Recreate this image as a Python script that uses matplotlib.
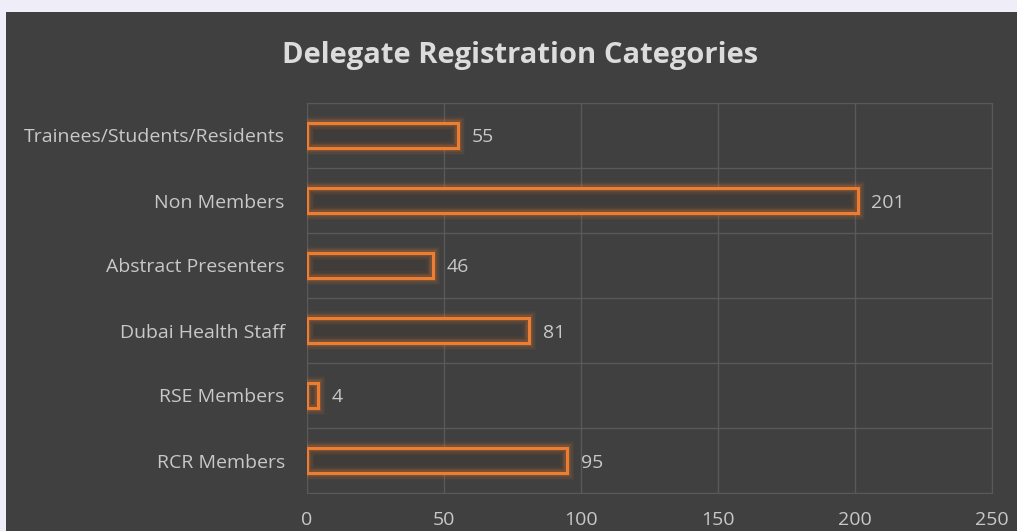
import matplotlib
matplotlib.use("Agg")
import matplotlib.pyplot as plt
from matplotlib.patches import Rectangle

# Dados
categorias = ['RCR Members', 'RSE Members', 'Dubai Health Staff', 'Abstract Presenters',
              'Non Members', 'Trainees/Students/Residents']
valores = [95, 4, 81, 46, 201, 55]
ticks_x = [0, 50, 100, 150, 200, 250]

fundo = '#404040'
laranja = '#ED7D31'
texto = '#C8C8C8'
grade = '#595959'

plt.rcParams['font.family'] = ['Open Sans', 'DejaVu Sans']

fig = plt.figure(figsize=(10.17, 5.31), dpi=100)
fig.patch.set_facecolor('#EFEEF8')
W, H = 1017, 531
# area escura do grafico
fig.patches.append(Rectangle((6 / W, 0), 1 - 6 / W, 1 - 12 / H, transform=fig.transFigure,
                             facecolor=fundo, edgecolor='none', zorder=-1))

ax = fig.add_axes([307 / W, 1 - 493 / H, (992 - 307) / W, (493 - 103) / H])
ax.set_facecolor(fundo)

y = list(range(len(categorias)))
# preenchimento escuro
ax.barh(y, valores, height=0.37, facecolor='#3F3C3A', edgecolor='none', zorder=2)
# brilho em volta das barras
for lw, a in [(10, 0.05), (8, 0.07), (6, 0.10), (4.5, 0.14)]:
    ax.barh(y, valores, height=0.37, facecolor='none', edgecolor=laranja, linewidth=lw,
            alpha=a, zorder=3)
ax.barh(y, valores, height=0.37, facecolor='none', edgecolor=laranja, linewidth=2.2, zorder=4)

for yi, v in zip(y, valores):
    ax.text(v + 5, yi, str(v), va='center_baseline', ha='left', color=texto, fontsize=14)

ax.set_xlim(0, 250)
ax.set_ylim(-0.5, len(categorias) - 0.5)
ax.set_xticks(ticks_x)
ax.set_xticklabels([str(t) for t in ticks_x])
ax.set_yticks(y)
ax.set_yticklabels(categorias)
ax.set_yticks([i - 0.5 for i in range(len(categorias) + 1)], minor=True)
ax.grid(True, axis='x', color=grade, linewidth=1, zorder=1)
ax.grid(True, axis='y', which='minor', color=grade, linewidth=1, zorder=1)
ax.set_axisbelow(True)
ax.tick_params(axis='both', which='both', length=0, colors=texto, labelsize=14)
ax.tick_params(axis='x', pad=13)
ax.tick_params(axis='y', pad=16)
for s in ax.spines.values():
    s.set_color(grade)

fig.text(520 / W, 1 - 55 / H, 'Delegate Registration Categories', ha='center', va='center',
         color='#DCDCDC', fontsize=21, fontweight='bold')

fig.savefig('out.png', dpi=100, facecolor=fig.get_facecolor())
